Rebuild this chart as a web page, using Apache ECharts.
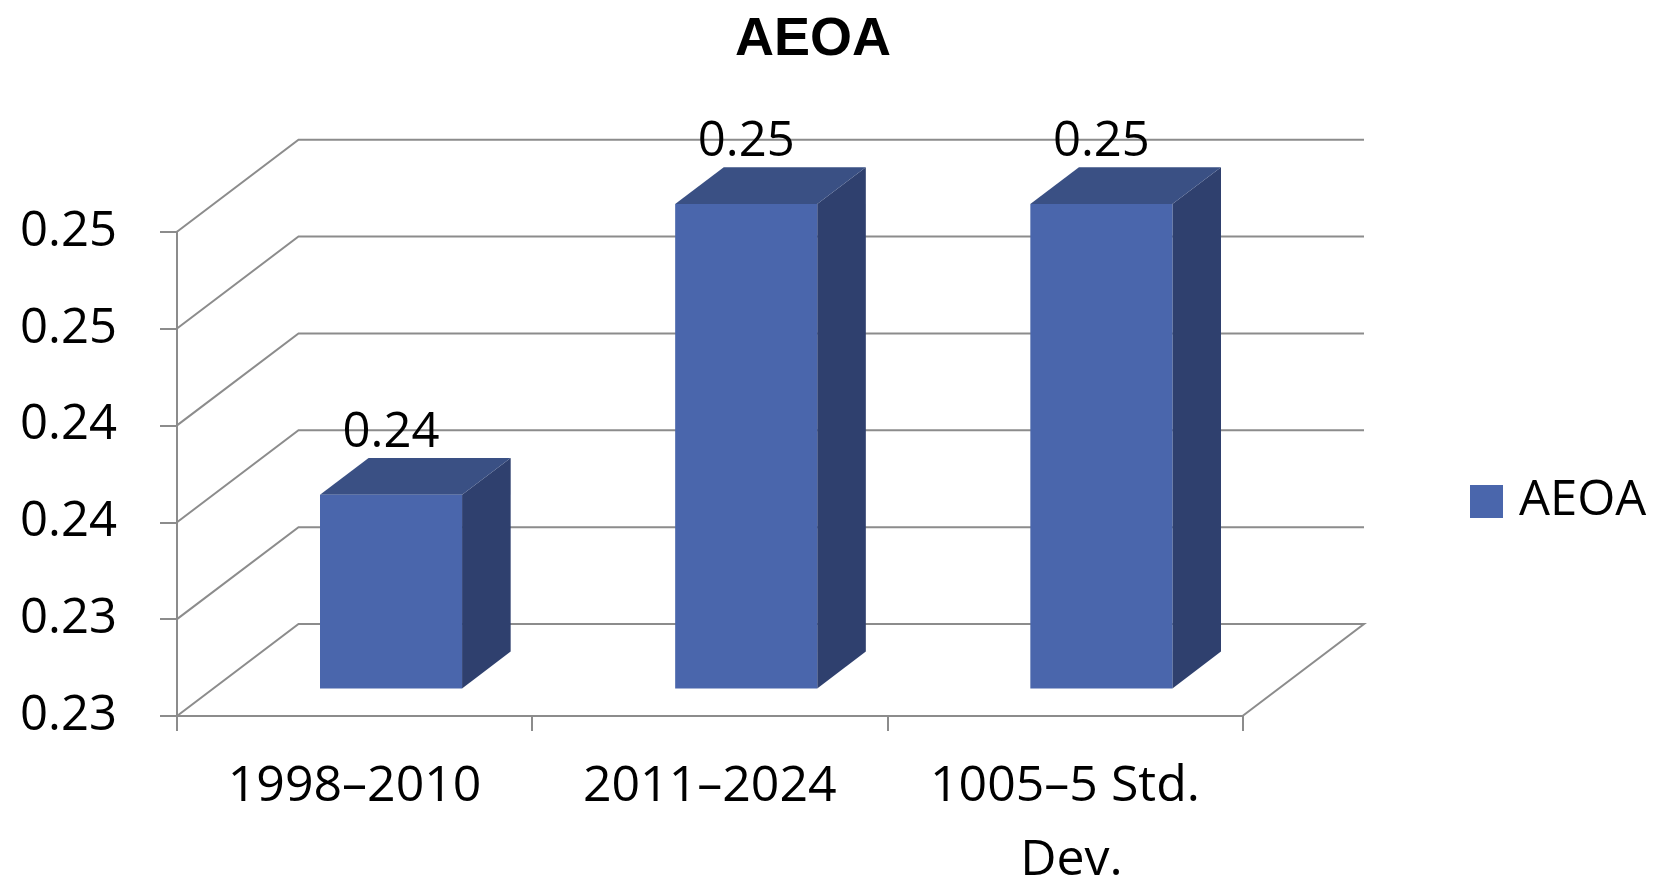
<!DOCTYPE html>
<html>
<head>
<meta charset="utf-8">
<script src="https://cdn.jsdelivr.net/npm/echarts@6/dist/echarts.min.js"></script>
<style>
  html, body { margin: 0; padding: 0; background: #ffffff; }
  #chart { width: 1654px; height: 882px; }
</style>
</head>
<body>
<div id="chart"></div>
<script>
// ---- data ----
const chartTitle = 'AEOA';
const seriesName = 'AEOA';
const categories = ['1998–2010', '2011–2024', '1005–5 Std. Dev.'];
const values = [0.235, 0.25, 0.25];
const yTicks = [0.225, 0.23, 0.235, 0.24, 0.245, 0.25];
const yTickLabels = ['0.23', '0.23', '0.24', '0.24', '0.25', '0.25'];

// ---- styling / geometry ----
const Y_MIN = yTicks[0];
const Y_MAX = yTicks[yTicks.length - 1];
const Y_INTERVAL = 0.005;
const DX = 121.5, DY = -92;      // depth offset of the back wall
const F0 = 0.30, F1 = 0.70;      // bar depth span (fraction of depth)
const BAR_FRAC = 0.4;
const FRONT = '#4A66AC', TOP = '#3A5084', SIDE = '#2F406E';
const LINE = '#8c8c8c';
const FONT = "'Open Sans', 'DejaVu Sans', sans-serif";

const fmt2 = v => (Math.round(v * 100 + 1e-6) / 100).toFixed(2);

const chart = echarts.init(document.getElementById('chart'), null, { renderer: 'canvas' });

const option = {
  backgroundColor: '#ffffff',
  animation: false,
  title: {
    text: chartTitle,
    left: 730,
    top: 8,
    textStyle: { fontFamily: "'Liberation Sans', Arial, sans-serif", fontWeight: 'bold', fontSize: 54, color: '#000', lineHeight: 54 }
  },
  legend: {
    data: [{ name: seriesName, itemStyle: { color: FRONT } }],
    left: 1470,
    top: 477,
    padding: 0,
    icon: 'rect',
    itemWidth: 33,
    itemHeight: 33,
    textStyle: { fontFamily: FONT, fontSize: 49, color: '#000', padding: [0, 0, 0, 11] }
  },
  grid: { left: 177, right: 411.5, top: 231.7, bottom: 166, containLabel: false, outerBoundsMode: 'none' },
  xAxis: {
    type: 'category',
    data: categories,
    boundaryGap: true,
    axisLine: { show: true, lineStyle: { color: LINE, width: 2 } },
    axisTick: { show: true, length: 15, alignWithLabel: false, lineStyle: { color: LINE, width: 2 } },
    axisLabel: {
      interval: 0,
      margin: 34,
      fontFamily: FONT,
      fontSize: 50,
      color: '#000',
      lineHeight: 74,
      width: 300,
      overflow: 'break',
      align: 'center'
    },
    splitLine: { show: false }
  },
  yAxis: {
    type: 'value',
    min: Y_MIN,
    max: Y_MAX,
    interval: Y_INTERVAL,
    axisLine: { show: true, lineStyle: { color: LINE, width: 2 } },
    axisTick: { show: true, length: 17, lineStyle: { color: LINE, width: 2 } },
    axisLabel: {
      margin: 60,
      fontFamily: FONT,
      fontSize: 49,
      color: '#000',
      formatter: function (v) {
        const i = Math.round((v - Y_MIN) / Y_INTERVAL);
        return yTickLabels[i] !== undefined ? yTickLabels[i] : '';
      }
    },
    splitLine: { show: false }
  },
  series: [
    {
      type: 'custom',
      name: 'walls',
      silent: true,
      z: 1,
      encode: { x: 0, y: 1 },
      data: yTicks.map(v => [0, v]),
      renderItem: function (params, api) {
        const v = api.value(1);
        const cs = params.coordSys;
        const y = api.coord([0, v])[1];
        const x0 = cs.x, x1 = cs.x + cs.width;
        const pts = [[x0, y], [x0 + DX, y + DY], [x1 + DX, y + DY]];
        if (Math.abs(v - Y_MIN) < 1e-9) pts.push([x1, y]);
        return {
          type: 'polyline',
          shape: { points: pts },
          style: { stroke: LINE, lineWidth: 2, fill: null }
        };
      }
    },
    {
      type: 'custom',
      name: seriesName,
      z: 2,
      itemStyle: { color: FRONT },
      encode: { x: 0, y: 1 },
      data: values.map((v, i) => [i, v]),
      renderItem: function (params, api) {
        const idx = api.value(0);
        const v = api.value(1);
        const top = api.coord([idx, v]);
        const base = api.coord([idx, Y_MIN]);
        const bw = api.size([1, 0])[0] * BAR_FRAC;
        const fx = top[0] - bw / 2 + DX * F0;
        const fy = top[1] + DY * F0;
        const by = base[1] + DY * F0;
        const ddx = DX * (F1 - F0), ddy = DY * (F1 - F0);
        return {
          type: 'group',
          children: [
            {
              type: 'polygon',
              shape: { points: [[fx + bw, fy], [fx + bw + ddx, fy + ddy], [fx + bw + ddx, by + ddy], [fx + bw, by]] },
              style: { fill: SIDE }
            },
            {
              type: 'polygon',
              shape: { points: [[fx, fy], [fx + ddx, fy + ddy], [fx + bw + ddx, fy + ddy], [fx + bw, fy]] },
              style: { fill: TOP }
            },
            {
              type: 'rect',
              shape: { x: fx, y: fy, width: bw, height: by - fy },
              style: { fill: FRONT }
            },
            {
              type: 'text',
              style: {
                text: fmt2(v),
                x: fx + bw / 2,
                y: fy - 62,
                align: 'center',
                verticalAlign: 'middle',
                fontFamily: FONT,
                fontSize: 49,
                fill: '#000'
              }
            }
          ]
        };
      }
    }
  ]
};

chart.setOption(option);
</script>
</body>
</html>
